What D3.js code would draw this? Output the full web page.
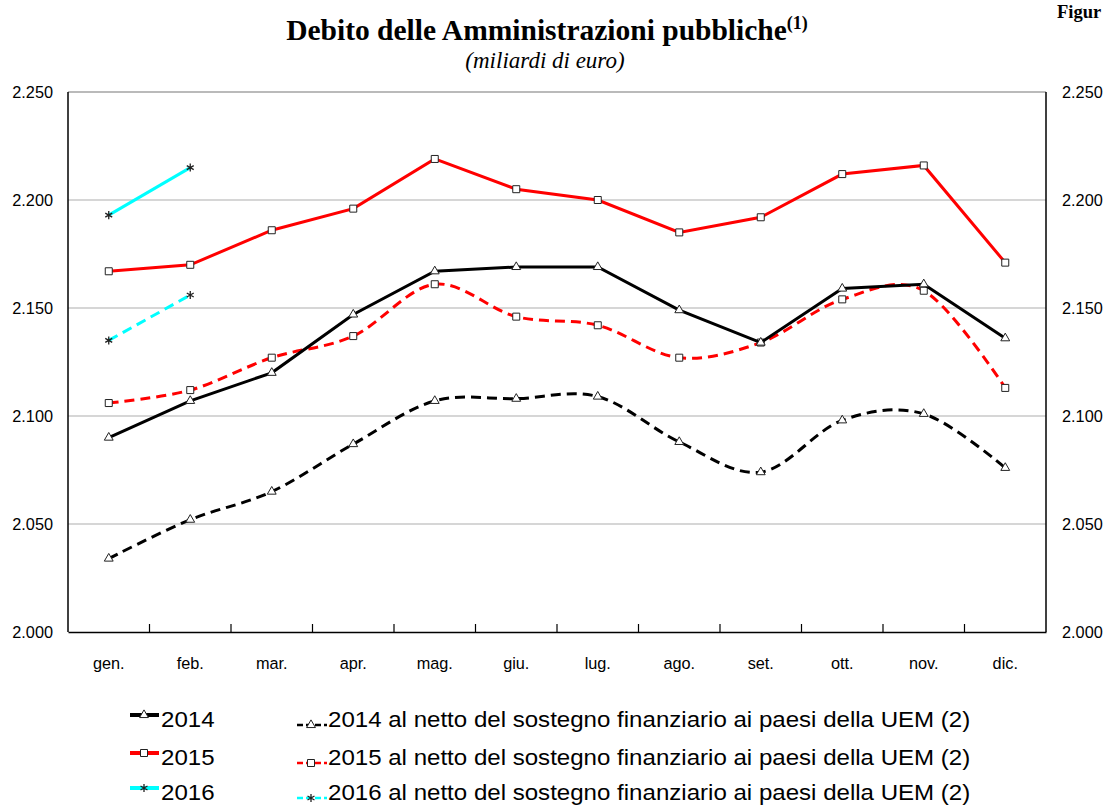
<!DOCTYPE html>
<html><head><meta charset="utf-8">
<script src="https://cdn.jsdelivr.net/npm/d3@7/dist/d3.min.js"></script>
<style>
body{margin:0;background:#fff;}
svg{display:block;}
</style></head>
<body>
<svg id="chart" width="1106" height="807"></svg>
<script>
const months = ["gen.","feb.","mar.","apr.","mag.","giu.","lug.","ago.","set.","ott.","nov.","dic."];
const s2014 = [2090,2107,2120,2147,2167,2169,2169,2149,2134,2159,2161,2136];
const s2015 = [2167,2170,2186,2196,2219,2205,2200,2185,2192,2212,2216,2171];
const s2016 = [2193,2215];
const n2014 = [2034,2052,2065,2087,2107,2108,2109,2088,2074,2098,2101,2076];
const n2015 = [2106,2112,2127,2137,2161,2146,2142,2127,2134,2154,2158,2113];
const n2016 = [2135,2156];
const yTicks = [2000,2050,2100,2150,2200,2250];
const fmt = v => (v/1000).toFixed(3);

const legendLeft = ["2014","2015","2016"];
const legendRight = ["2014 al netto del sostegno finanziario ai paesi della UEM (2)",
                     "2015 al netto del sostegno finanziario ai paesi della UEM (2)",
                     "2016 al netto del sostegno finanziario ai paesi della UEM (2)"];

const svg = d3.select("#chart");
const L=68, R=1046, T=92, B=632;
const x = d3.scaleBand().domain(months).range([L,R]);
const y = d3.scaleLinear().domain([2000,2250]).range([B,T]);
const cx = m => x(m)+x.bandwidth()/2;
const SANS = "Liberation Sans, Arial, sans-serif";
const SERIF = "Liberation Serif, Times New Roman, serif";

// title
const title = svg.append("text").attr("x",547).attr("y",40).attr("text-anchor","middle")
  .attr("font-family",SERIF).attr("font-weight","bold").attr("font-size",29.5);
title.append("tspan").text("Debito delle Amministrazioni pubbliche");
title.append("tspan").attr("font-size",18).attr("dy",-11).text("(1)");
svg.append("text").attr("x",545).attr("y",68).attr("text-anchor","middle")
  .attr("font-family",SERIF).attr("font-style","italic").attr("font-size",23)
  .text("(miliardi di euro)");
svg.append("text").attr("x",1057).attr("y",18)
  .attr("font-family",SERIF).attr("font-weight","bold").attr("font-size",18.5)
  .text("Figur");

// gridlines
svg.append("g").selectAll("line").data(yTicks.filter(t=>t>2000&&t<2250)).join("line")
  .attr("x1",L).attr("x2",R).attr("y1",d=>y(d)).attr("y2",d=>y(d))
  .attr("stroke","#c8c8c8").attr("stroke-width",1.5);

// frame
svg.append("line").attr("x1",L).attr("x2",R).attr("y1",T).attr("y2",T).attr("stroke","#777").attr("stroke-width",1.2);
svg.append("line").attr("x1",L).attr("x2",L).attr("y1",T).attr("y2",B).attr("stroke","#000").attr("stroke-width",1.5);
svg.append("line").attr("x1",R).attr("x2",R).attr("y1",T).attr("y2",B).attr("stroke","#000").attr("stroke-width",1.5);

// x axis
const xAxis = d3.axisBottom(x).tickSize(0).tickPadding(0);
const xg = svg.append("g").attr("transform",`translate(0,${B})`).call(xAxis);
xg.select(".domain").attr("stroke","#000").attr("stroke-width",1.5);
xg.selectAll("text").attr("font-family",SANS).attr("font-size",16.3).attr("fill","#000").attr("dy",null).attr("y",37);
// boundary ticks
svg.append("g").selectAll("line").data(months.slice(1)).join("line")
  .attr("x1",d=>x(d)).attr("x2",d=>x(d)).attr("y1",B).attr("y2",B-8)
  .attr("stroke","#000").attr("stroke-width",1.2);

// y axes
const yl = svg.append("g").attr("transform",`translate(${L-15},0)`)
  .call(d3.axisLeft(y).tickValues(yTicks).tickFormat(fmt).tickSize(0).tickPadding(0));
yl.select(".domain").remove();
yl.selectAll("text").attr("font-family",SANS).attr("font-size",16.3).attr("fill","#000");
const yr = svg.append("g").attr("transform",`translate(${R+16},0)`)
  .call(d3.axisRight(y).tickValues(yTicks).tickFormat(fmt).tickSize(0).tickPadding(0));
yr.select(".domain").remove();
yr.selectAll("text").attr("font-family",SANS).attr("font-size",16.3).attr("fill","#000");

// series
const series = [
  {vals:n2014, color:"#000", dash:"10,6", curve:d3.curveCardinal.tension(0), sym:d3.symbolTriangle},
  {vals:n2015, color:"#ff0000", dash:"10,6", curve:d3.curveCardinal.tension(0), sym:d3.symbolSquare},
  {vals:n2016, color:"#00ffff", dash:"10,6", curve:d3.curveCardinal.tension(0), sym:d3.symbolAsterisk},
  {vals:s2014, color:"#000", dash:null, curve:d3.curveLinear, sym:d3.symbolTriangle},
  {vals:s2015, color:"#ff0000", dash:null, curve:d3.curveLinear, sym:d3.symbolSquare},
  {vals:s2016, color:"#00ffff", dash:null, curve:d3.curveLinear, sym:d3.symbolAsterisk}
];
const symSize = s => s===d3.symbolSquare?49:(s===d3.symbolTriangle?34:45);
function drawMarker(g, sym, px, py){
  const isStar = sym===d3.symbolAsterisk;
  g.append("path").attr("transform",`translate(${px},${py})`)
    .attr("d",d3.symbol(sym, symSize(sym))())
    .attr("fill", isStar?"none":"#fff").attr("stroke", "#222").attr("stroke-width",isStar?1.3:1);
}
series.forEach(s=>{
  const line = d3.line().x((d,i)=>cx(months[i])).y(d=>y(d)).curve(s.curve);
  svg.append("path").datum(s.vals).attr("d",line).attr("fill","none")
    .attr("stroke",s.color).attr("stroke-width",3).attr("stroke-dasharray",s.dash);
  const g = svg.append("g");
  s.vals.forEach((v,i)=>drawMarker(g, s.sym, cx(months[i]), y(v)));
});

// legend
const colors = ["#000","#ff0000","#00ffff"];
const syms = [d3.symbolTriangle, d3.symbolSquare, d3.symbolAsterisk];
const baseY = [727,765,800];
legendLeft.forEach((t,i)=>{
  const g = svg.append("g");
  g.append("line").attr("x1",130).attr("x2",159).attr("y1",baseY[i]-12).attr("y2",baseY[i]-12)
    .attr("stroke",colors[i]).attr("stroke-width",4);
  drawMarker(g, syms[i], 144, baseY[i]-12);
  g.append("text").attr("transform",`translate(161,${baseY[i]}) scale(1.07,1)`)
    .attr("font-family",SANS).attr("font-size",22.5).text(t);
});
legendRight.forEach((t,i)=>{
  const g = svg.append("g");
  g.append("line").attr("x1",297).attr("x2",327).attr("y1",baseY[i]-2).attr("y2",baseY[i]-2)
    .attr("stroke",colors[i]).attr("stroke-width",2.5).attr("stroke-dasharray","6,3");
  drawMarker(g, syms[i], 311, baseY[i]-2);
  g.append("text").attr("transform",`translate(328,${baseY[i]}) scale(1.07,1)`)
    .attr("font-family",SANS).attr("font-size",22.5).text(t);
});
</script>
</body></html>
